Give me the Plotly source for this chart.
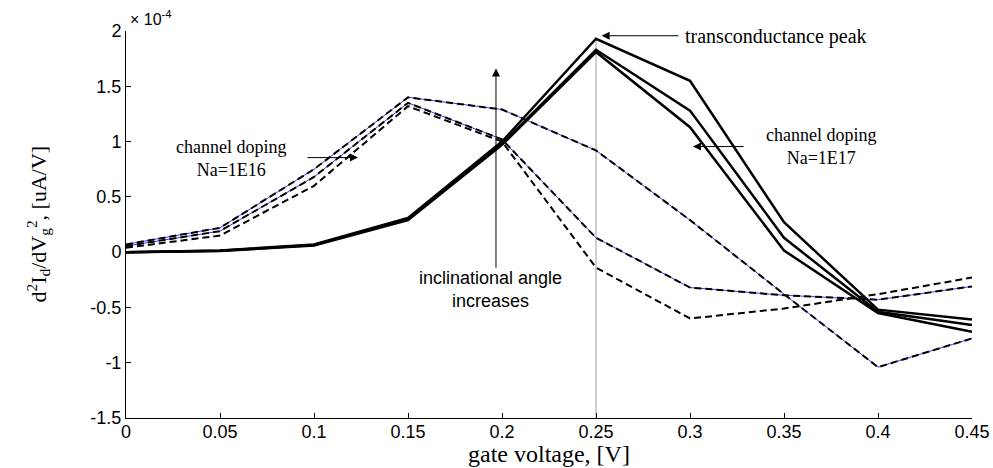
import plotly.graph_objects as go

# gate voltage sweep [V]
gate_v = [0.0, 0.05, 0.10, 0.15, 0.20, 0.25, 0.30, 0.35, 0.40, 0.45]

# d2Id/dVg2 in units of 1e-4 uA/V
# channel doping Na=1E17 (solid)
na17_a = [0.0, 0.015, 0.07, 0.31, 1.00, 1.93, 1.55, 0.27, -0.52, -0.61]
na17_b = [0.0, 0.012, 0.065, 0.30, 0.98, 1.83, 1.28, 0.13, -0.54, -0.66]
na17_c = [0.0, 0.010, 0.06, 0.29, 0.97, 1.81, 1.13, 0.015, -0.55, -0.72]

# channel doping Na=1E16 (dashed)
na16_a = [0.07, 0.22, 0.75, 1.40, 1.29, 0.92, 0.29, -0.38, -1.04, -0.78]
na16_b = [0.055, 0.19, 0.68, 1.35, 1.02, 0.13, -0.32, -0.39, -0.43, -0.31]
na16_c = [0.04, 0.15, 0.60, 1.32, 1.00, -0.14, -0.60, -0.51, -0.38, -0.23]

x_ticks = [0, 0.05, 0.1, 0.15, 0.2, 0.25, 0.3, 0.35, 0.4, 0.45]
x_tick_text = ["0", "0.05", "0.1", "0.15", "0.2", "0.25", "0.3", "0.35", "0.4", "0.45"]
y_ticks = [-1.5, -1, -0.5, 0, 0.5, 1, 1.5, 2]
y_tick_text = ["-1.5", "-1", "-0.5", "0", "0.5", "1", "1.5", "2"]

peak_v = 0.25
peak_val = max(na17_a)

SERIF = "Liberation Serif, Times New Roman, serif"
SANS = "Liberation Sans, Arial, sans-serif"

fig = go.Figure()

# marker line at the transconductance peak
fig.add_trace(go.Scatter(x=[peak_v, peak_v], y=[-1.5, peak_val], mode="lines",
                         line=dict(color="#a0a0a0", width=1), hoverinfo="skip"))

for ys in (na16_a, na16_b):
    fig.add_trace(go.Scatter(x=gate_v, y=ys, mode="lines",
                             line=dict(color="#3b3bff", width=1), hoverinfo="skip"))
for ys in (na16_a, na16_b, na16_c):
    fig.add_trace(go.Scatter(x=gate_v, y=ys, mode="lines",
                             line=dict(color="black", width=2, dash="7px,4px")))
for ys in (na17_a, na17_b, na17_c):
    fig.add_trace(go.Scatter(x=gate_v, y=ys, mode="lines",
                             line=dict(color="black", width=2.5)))


def arrow(x, y, ax, ay):
    fig.add_annotation(x=x, y=y, ax=ax, ay=ay, xref="x", yref="y", axref="x", ayref="y",
                       text="", showarrow=True, arrowhead=2, arrowsize=1.6,
                       arrowwidth=1, arrowcolor="black", standoff=0)


def label(x, y, text, family, size, anchor="center"):
    fig.add_annotation(x=x, y=y, xref="x", yref="y", xanchor=anchor, yanchor="middle",
                       text=text, showarrow=False,
                       font=dict(family=family, size=size, color="black"))


arrow(0.253, 1.957, 0.2947, 1.957)
arrow(0.3016, 0.955, 0.3293, 0.955)
arrow(0.1234, 0.855, 0.0957, 0.855)
arrow(0.1968, 1.66, 0.1968, -0.155)

label(0.2963, 1.95, "transconductance peak", SERIF, 20, anchor="left")
label(0.3697, 0.955, "channel doping<br>Na=1E17", SERIF, 18)
label(0.0559, 0.85, "channel doping<br>Na=1E16", SERIF, 18)
label(0.194, -0.34, "inclinational angle<br>increases", SANS, 18)

# exponent label above the y axis
fig.add_annotation(x=0.002, y=1.0, xref="paper", yref="paper", xanchor="left", yanchor="bottom",
                   yshift=1, text="× 10<sup>-4</sup>", showarrow=False,
                   font=dict(family=SANS, size=16, color="black"))

# axis titles
fig.add_annotation(x=-0.104, y=0.5, xref="paper", yref="paper", xanchor="center", yanchor="middle",
                   textangle=-90, showarrow=False,
                   text="d<sup>2</sup>I<sub>d</sub>/dV<sub>g</sub><sup>2</sup>, [uA/V]",
                   font=dict(family=SERIF, size=22, color="black"))
fig.add_annotation(x=0.5, y=0, xref="paper", yref="paper", xanchor="center", yanchor="bottom",
                   yshift=-51, showarrow=False, text="gate voltage, [V]",
                   font=dict(family=SERIF, size=24, color="black"))

fig.update_layout(
    width=993, height=468,
    margin=dict(l=126, r=21, t=31, b=50),
    paper_bgcolor="white", plot_bgcolor="white",
    showlegend=False,
    xaxis=dict(range=[0, 0.45], tickvals=x_ticks, ticktext=x_tick_text, automargin=False,
               ticks="inside", ticklen=5, tickcolor="black", showgrid=False, zeroline=False,
               showline=True, linecolor="black", linewidth=1, ticklabelstandoff=-3,
               tickfont=dict(family=SANS, size=18, color="black")),
    yaxis=dict(range=[-1.5, 2], tickvals=y_ticks, ticktext=y_tick_text, automargin=False,
               ticks="inside", ticklen=5, tickcolor="black", showgrid=False, zeroline=False,
               showline=True, linecolor="black", linewidth=1,
               tickfont=dict(family=SANS, size=18, color="black")),
)

fig.write_html("out.html")
